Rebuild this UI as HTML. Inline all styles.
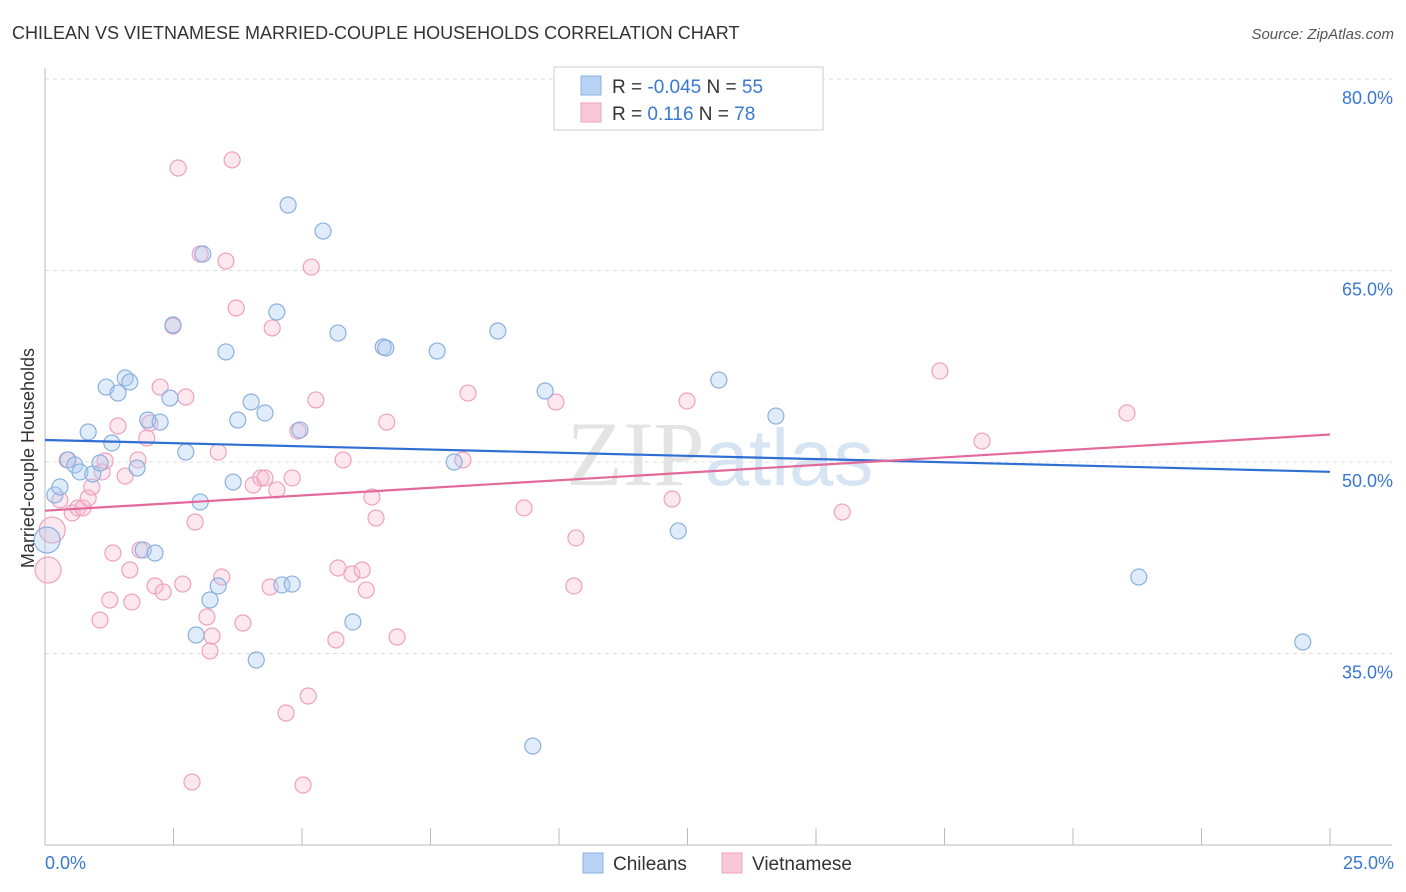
<!DOCTYPE html>
<html><head><meta charset="utf-8"><style>
body{margin:0;background:#fff;font-family:"Liberation Sans",sans-serif;}
svg{display:block}
</style></head><body>
<svg id="chart" width="1406" height="892" viewBox="0 0 1406 892">
<text x="12" y="39" font-size="18" fill="#333">CHILEAN VS VIETNAMESE MARRIED-COUPLE HOUSEHOLDS CORRELATION CHART</text>
<text x="1394" y="39" font-size="15" fill="#555" text-anchor="end" font-style="italic">Source: ZipAtlas.com</text>
<text x="720" y="485" font-size="92" fill="#e4e4e4" text-anchor="middle" font-family="Liberation Serif,serif">ZIP<tspan fill="#d6e4f4" font-family="Liberation Sans,sans-serif" font-size="80">atlas</tspan></text>
<g id="grid"></g>
<g id="points"></g>
<g id="lines"></g>
<text transform="translate(34,458) rotate(-90)" font-size="18" fill="#333" text-anchor="middle">Married-couple Households</text>
<text x="45" y="869" font-size="18" fill="#3a78d0">0.0%</text>
<text x="1394" y="869" font-size="18" fill="#3a78d0" text-anchor="end">25.0%</text>
<g>
<rect x="554" y="67" width="269" height="63" fill="#fff" stroke="#ccc"/>
<rect x="581" y="76" width="20" height="19" fill="#b8d2f4" stroke="#8ab0e0"/>
<rect x="581" y="103" width="20" height="19" fill="#f8c8d8" stroke="#f0a0bc"/>
<text x="612" y="93" font-size="19" fill="#333">R = <tspan fill="#3a78d0">-0.045</tspan>   N = <tspan fill="#3a78d0">55</tspan></text>
<text x="612" y="120" font-size="19" fill="#333">R =    <tspan fill="#3a78d0">0.116</tspan>   N = <tspan fill="#3a78d0">78</tspan></text>
</g>
<g>
<rect x="583" y="853" width="20" height="20" fill="#b8d2f4" stroke="#8ab0e0"/>
<text x="613" y="870" font-size="19" fill="#333">Chileans</text>
<rect x="722" y="853" width="20" height="20" fill="#f8c8d8" stroke="#f0a0bc"/>
<text x="752" y="870" font-size="19" fill="#333">Vietnamese</text>
</g>
</svg>
<script>
const yTicks=[80,65,50,35];
const yTickLabels=["80.0%","65.0%","50.0%","35.0%"];
const xTicks=[0,2.5,5,7.5,10,12.5,15,17.5,20,22.5,25];
const bluePx=[[55,495],[60,487],[68,460],[75,465],[80,472],[88,432],[93,474],[100,463],[106,387],[112,443],[118,393],[125,378],[130,382],[137,468],[143,550],[148,420],[155,553],[160,422],[170,398],[173,325],[186,452],[196,635],[200,502],[203,254],[210,600],[218,586],[226,352],[233,482],[238,420],[251,402],[256,660],[265,413],[277,312],[282,585],[288,205],[292,584],[300,430],[323,231],[338,333],[353,622],[383,347],[386,348],[437,351],[454,462],[498,331],[533,746],[545,391],[678,531],[719,380],[776,416],[768,108],[1139,577],[1303,642],[47,540]];
const pinkPx=[[48,570],[52,530],[60,500],[67,460],[72,513],[78,508],[83,508],[88,498],[92,487],[100,620],[102,472],[105,461],[110,600],[113,553],[118,426],[125,476],[130,570],[132,602],[138,460],[140,550],[147,438],[150,423],[155,586],[160,387],[163,592],[173,326],[178,168],[183,584],[186,397],[192,782],[195,522],[200,254],[207,617],[210,651],[212,636],[218,452],[222,577],[226,261],[232,160],[236,308],[243,623],[253,485],[261,478],[265,478],[270,587],[272,328],[277,490],[286,713],[292,478],[298,431],[308,696],[303,785],[311,267],[316,400],[336,640],[338,568],[343,460],[352,574],[362,570],[366,590],[372,497],[376,518],[387,422],[397,637],[463,460],[468,393],[524,508],[556,402],[574,586],[576,538],[672,499],[687,401],[842,512],[940,371],[982,441],[1127,413]];
// data values (x %, y %)
const chileansX=bluePx.map(p=>+((p[0]-45)/1285*25).toFixed(2));
const chileansY=bluePx.map(p=>+(50+(462-p[1])/191.5*15).toFixed(2));
const vietnameseX=pinkPx.map(p=>+((p[0]-45)/1285*25).toFixed(2));
const vietnameseY=pinkPx.map(p=>+(50+(462-p[1])/191.5*15).toFixed(2));
const NS="http://www.w3.org/2000/svg";
const sx=v=>45+v/25*1285;
const sy=v=>462-(v-50)/15*191.5;
function mk(tag,attrs,parent){const e=document.createElementNS(NS,tag);for(const k in attrs)e.setAttribute(k,attrs[k]);parent.appendChild(e);return e;}
const grid=document.getElementById('grid');
yTicks.forEach((t,i)=>{
 const l=mk('line',{x1:45,x2:1392,y1:sy(t),y2:sy(t),stroke:'#ddd','stroke-dasharray':'4,4'},grid);
 
 
 const tx=mk('text',{x:1393,y:sy(t)+25,'font-size':18,fill:'#3a78d0','text-anchor':'end'},grid);
 tx.textContent=yTickLabels[i];
 
 
});
const ax=mk('line',{x1:45,x2:1392,y1:845,y2:845,stroke:'#bbb'},grid);


const ay=mk('line',{x1:45,x2:45,y1:68,y2:845,stroke:'#bbb'},grid);


xTicks.forEach(t=>{
 const l=mk('line',{x1:sx(t),x2:sx(t),y1:828,y2:845,stroke:'#bbb'},grid);
 
 
});
const pts=document.getElementById('points');
function drawSeries(X,Y,fill,stroke,name){
 X.forEach((x,i)=>{
  const big=(sx(x)<55&&(Y[i]<47));
  const c=mk('circle',{cx:sx(x),cy:sy(Y[i]),r:big?13:8,fill:fill,stroke:stroke,'stroke-width':1.2},pts);
  
  
 });
}
drawSeries(vietnameseX,vietnameseY,'rgba(248,190,210,0.35)','#f0a0bc','vietnamese-point');
drawSeries(chileansX,chileansY,'rgba(170,200,240,0.35)','#8ab0e0','chileans-point');
function reg(X,Y){const n=X.length;const mx=X.reduce((a,b)=>a+b)/n,my=Y.reduce((a,b)=>a+b)/n;let sxy=0,sxx=0;X.forEach((x,i)=>{sxy+=(x-mx)*(Y[i]-my);sxx+=(x-mx)*(x-mx);});const b=sxy/sxx;return [my-b*mx,b];}
const lines=document.getElementById('lines');
[[chileansX,chileansY,'#2f6fd4','chileans-trend-line'],[vietnameseX,vietnameseY,'#e2699a','vietnamese-trend-line']].forEach(s=>{
 const [a,b]=reg(s[0],s[1]);
 const l=mk('line',{x1:sx(0),y1:sy(a),x2:sx(25),y2:sy(a+b*25),stroke:s[2],'stroke-width':2.2},lines);
 
 
});
</script>
</body></html>
